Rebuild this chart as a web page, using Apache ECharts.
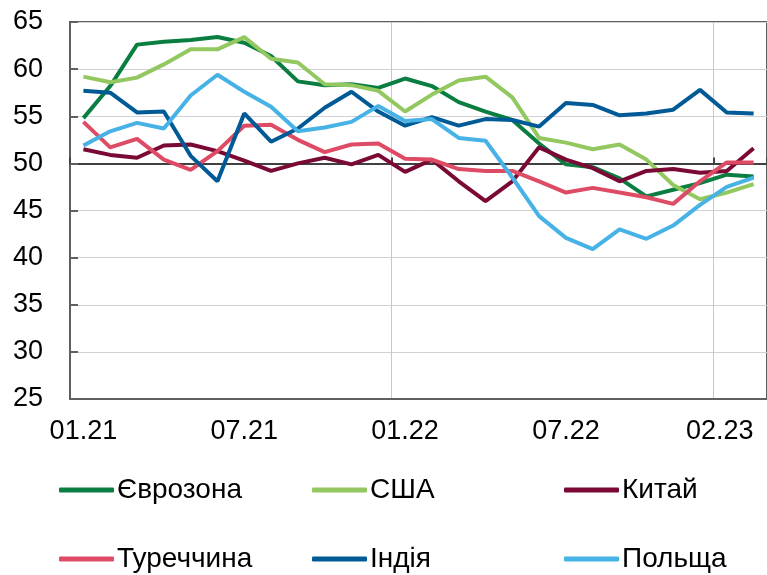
<!DOCTYPE html>
<html>
<head>
<meta charset="utf-8">
<script src="https://cdn.jsdelivr.net/npm/echarts@6/dist/echarts.min.js"></script>
<style>
html, body { margin: 0; padding: 0; background: #fff; }
#draw { width: 767px; height: 575px; }
</style>
</head>
<body>
<div id="draw"></div>
<script>
var months = ["01.21","02.21","03.21","04.21","05.21","06.21","07.21","08.21","09.21","10.21","11.21","12.21",
  "01.22","02.22","03.22","04.22","05.22","06.22","07.22","08.22","09.22","10.22","11.22","12.22","01.23","02.23"];

var names = ["Єврозона", "США", "Китай", "Туреччина", "Індія", "Польща"];

var euro = [54.8, 58.2, 62.6, 62.9, 63.1, 63.4, 62.8, 61.4, 58.7, 58.3, 58.4, 58.0, 59.0, 58.2, 56.5, 55.5, 54.6, 52.1, 49.9, 49.6, 48.4, 46.5, 47.2, 47.9, 48.8, 48.6];
var usa = [59.2, 58.6, 59.1, 60.5, 62.1, 62.1, 63.4, 61.1, 60.7, 58.4, 58.3, 57.7, 55.5, 57.3, 58.8, 59.2, 57.0, 52.7, 52.2, 51.5, 52.0, 50.4, 47.7, 46.2, 46.9, 47.8];
var china = [51.5, 50.9, 50.6, 51.9, 52.0, 51.3, 50.3, 49.2, 50.0, 50.6, 49.9, 50.9, 49.1, 50.4, 48.1, 46.0, 48.1, 51.7, 50.4, 49.5, 48.1, 49.2, 49.4, 49.0, 49.2, 51.6];
var turkey = [54.4, 51.7, 52.6, 50.4, 49.3, 51.3, 54.0, 54.1, 52.5, 51.2, 52.0, 52.1, 50.5, 50.4, 49.4, 49.2, 49.2, 48.1, 46.9, 47.4, 46.9, 46.4, 45.7, 48.1, 50.1, 50.1];
var india = [57.7, 57.5, 55.4, 55.5, 50.8, 48.1, 55.3, 52.3, 53.7, 55.9, 57.6, 55.5, 54.0, 54.9, 54.0, 54.7, 54.6, 53.9, 56.4, 56.2, 55.1, 55.3, 55.7, 57.8, 55.4, 55.3];
var poland = [51.9, 53.4, 54.3, 53.7, 57.2, 59.4, 57.6, 56.0, 53.4, 53.8, 54.4, 56.1, 54.5, 54.7, 52.7, 52.4, 48.5, 44.4, 42.1, 40.9, 43.0, 42.0, 43.4, 45.6, 47.5, 48.5];

var values = [euro, usa, china, turkey, india, poland];
var colors = ["#0a7d40", "#92c85f", "#7a0a35", "#de4b64", "#005a96", "#47b2e6"];

var shownLabels = [0, 6, 12, 18, 25];
var font = "'Liberation Sans', Arial, sans-serif";

// legend positions: 3 columns x 2 rows
var legendLeft = [59, 312, 564];
var legendTop = [476, 545];

var chart = echarts.init(document.getElementById("draw"));

var series = [];
for (let i = 0; i < names.length; i++) {
  series.push({
    name: names[i],
    type: "line",
    data: values[i],
    symbol: "none",
    smooth: false,
    lineStyle: { color: colors[i], width: 4 },
    itemStyle: { color: colors[i] },
    z: 3 + i,
  });
}

var legends = [];
for (let i = 0; i < names.length; i++) {
  legends.push({
    data: [names[i]],
    left: legendLeft[i % 3],
    top: legendTop[Math.floor(i / 3)],
    icon: "roundRect",
    itemWidth: 55,
    itemHeight: 5,
    itemGap: 0,
    padding: 0,
    selectedMode: false,
    textStyle: { fontFamily: font, fontSize: 28, color: "#000", padding: [0, 0, 0, -2] },
  });
}

var option = {
  animation: false,
  grid: {
    left: 70,
    top: 22,
    width: 698,
    height: 377,
    show: true,
    borderColor: "#5f5f5f",
    borderWidth: 2,
    backgroundColor: "rgba(0,0,0,0)",
  },
  legend: legends,
  xAxis: [
    {
      type: "category",
      data: months,
      boundaryGap: true,
      axisLine: { show: true, lineStyle: { color: "#5f5f5f", width: 2 } },
      axisTick: { show: false },
      axisLabel: {
        interval: function (index) { return shownLabels.indexOf(index) >= 0; },
        fontFamily: font,
        fontSize: 27,
        color: "#000",
        margin: 19,
        alignMaxLabel: "right",
      },
      splitLine: {
        show: true,
        interval: function (index) { return index % 12 === 0; },
        lineStyle: { color: "#c8c8d0", width: 1 },
      },
    },
    {
      // the line at 50, with small ticks every 12 months
      type: "category",
      data: months,
      position: "bottom",
      offset: -235.6,
      boundaryGap: true,
      axisLine: { show: true, lineStyle: { color: "#404040", width: 2 } },
      axisTick: {
        show: true,
        inside: true,
        length: 6,
        interval: function (index) { return index % 12 === 0; },
        lineStyle: { color: "#404040", width: 2 },
      },
      axisLabel: { show: false },
      splitLine: { show: false },
    },
  ],
  yAxis: {
    type: "value",
    min: 25,
    max: 65,
    interval: 5,
    axisLine: { show: true, lineStyle: { color: "#5f5f5f", width: 2 } },
    axisTick: { show: true, inside: true, length: 8, lineStyle: { color: "#5f5f5f", width: 2 } },
    axisLabel: { fontFamily: font, fontSize: 27, color: "#000", margin: 27 },
    splitLine: { show: true, lineStyle: { color: "#d0d0d8", width: 1 } },
  },
  series: series,
};

chart.setOption(option);
</script>
</body>
</html>
